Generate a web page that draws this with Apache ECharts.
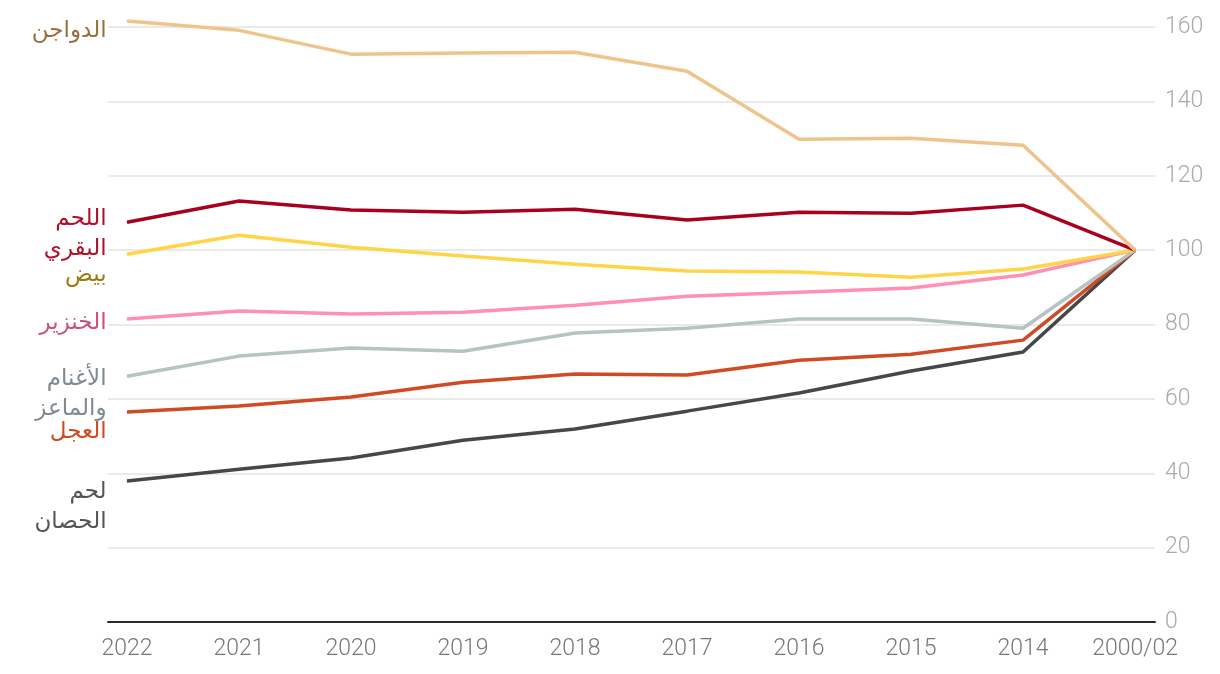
<!DOCTYPE html>
<html>
<head>
<meta charset="utf-8">
<script src="https://cdn.jsdelivr.net/npm/echarts@6/dist/echarts.min.js"></script>
<style>
html,body{margin:0;padding:0;background:#fff;}
#chart{width:1220px;height:674px;}
</style>
</head>
<body>
<div id="chart"></div>
<script>
const categories = ['2022','2021','2020','2019','2018','2017','2016','2015','2014','2000/02'];
const yTicks = [0,20,40,60,80,100,120,140,160];

const poultry = [161.6,159.1,152.7,153.0,153.2,148.1,129.8,130.1,128.2,100];
const beef    = [107.5,113.2,110.8,110.2,111.0,108.1,110.2,109.9,112.1,100];
const eggs    = [98.9,104.0,100.8,98.4,96.2,94.4,94.1,92.7,94.9,100];
const pork    = [81.5,83.6,82.8,83.3,85.2,87.6,88.7,89.8,93.3,100];
const sheep   = [66.1,71.5,73.7,72.8,77.7,79.0,81.5,81.5,79.0,100];
const veal    = [56.5,58.1,60.5,64.5,66.7,66.4,70.4,72.0,75.8,100];
const horse   = [37.9,41.1,44.1,48.9,51.9,56.7,61.6,67.5,72.6,100];

const seriesNames = ['الدواجن','اللحم\nالبقري','بيض','الخنزير','الأغنام\nوالماعز','العجل','لحم\nالحصان'];
const seriesData = [poultry, beef, eggs, pork, sheep, veal, horse];
const lineColors = ['#eec48c','#a8001e','#ffd447','#ff8fb3','#b5c3c3','#d04a25','#474747'];
const labelColors = ['#9a7040','#b0102c','#9a7d12','#c8527a','#7d8a90','#d04a25','#555555'];
const labelOffsets = [[0,10],[0,12],[0,21],[0,4],[0,18],[0,20],[0,26]];

const chart = echarts.init(document.getElementById('chart'));
const series = seriesData.map((vals, si) => ({
  type: 'line',
  name: seriesNames[si],
  symbol: 'circle',
  symbolSize: 1,
  showSymbol: true,
  clip: false,
  lineStyle: {width: 3.5, color: lineColors[si]},
  itemStyle: {color: lineColors[si]},
  z: 10 - si,
  label: {show: false},
  data: vals.map((v, i) => {
    const d = {value: [i, v]};
    if (i === 0) {
      d.label = {
        show: true,
        position: 'left',
        distance: 20,
        offset: labelOffsets[si],
        formatter: seriesNames[si],
        color: labelColors[si],
        fontSize: 23,
        lineHeight: 30,
        align: 'right',
        fontFamily: 'DejaVu Sans, Noto Sans, sans-serif'
      };
    }
    return d;
  })
}));

chart.setOption({
  animation: false,
  grid: {left: 108, right: 65, top: 27, bottom: 52},
  xAxis: {
    type: 'value',
    min: -0.17,
    max: 9.178,
    splitLine: {show: false},
    axisTick: {show: false},
    axisLine: {show: true, lineStyle: {color: '#2a2a2a', width: 2}},
    axisLabel: {
      customValues: categories.map((c, i) => i),
      formatter: v => categories[Math.round(v)],
      color: '#777',
      fontSize: 23,
      margin: 16,
      fontFamily: 'Roboto, sans-serif',
      fontWeight: 300
    }
  },
  yAxis: {
    type: 'value',
    position: 'right',
    min: 0,
    max: 160,
    interval: 20,
    axisLine: {show: false},
    axisTick: {show: false},
    splitLine: {lineStyle: {color: '#e3e3e3', width: 1.5}},
    axisLabel: {
      color: '#aaa',
      fontSize: 23,
      margin: 10,
      fontFamily: 'Roboto, sans-serif',
      fontWeight: 300,
      formatter: v => yTicks.includes(v) ? String(v) : ''
    }
  },
  series: series
});
</script>
</body>
</html>
